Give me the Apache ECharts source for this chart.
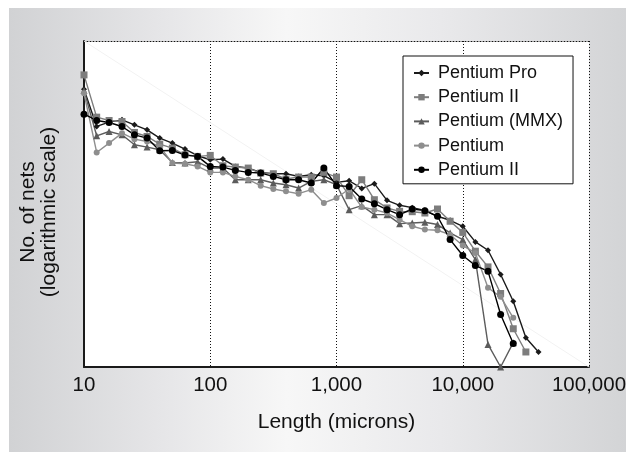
<!DOCTYPE html>
<html>
<head>
<meta charset="utf-8">
<script src="https://cdn.jsdelivr.net/npm/echarts@6/dist/echarts.min.js"></script>
<style>
  html, body { margin: 0; padding: 0; background: #fff; }
  #wrap { position: relative; width: 626px; height: 452px; }
  #panel {
    position: absolute; left: 9px; top: 8px; right: 0; bottom: 0;
    background: linear-gradient(to right, #d1d2d4 0%, #e6e6e8 25%, #f7f7f7 45%, #e9e9eb 70%, #d3d4d6 100%);
  }
  #chart { position: absolute; left: 0; top: 0; width: 626px; height: 452px; }
</style>
</head>
<body>
<div id="wrap"><div id="panel"></div><div id="chart"></div></div>
<script>
// Net length bins (microns), 10 bins per decade
const lengths = [10, 12.6, 15.8, 20, 25.1, 31.6, 39.8, 50.1, 63.1, 79.4,
  100, 126, 158, 200, 251, 316, 398, 501, 631, 794,
  1000, 1259, 1585, 1995, 2512, 3162, 3981, 5012, 6310, 7943,
  10000, 12589, 15849, 19953, 25119, 31623, 39811];

// Number of nets per bin
const pentiumPro = [18200, 4890, 5690, 6180, 5180, 4340, 3240, 2715, 2200, 1740,
  1510, 1545, 1190, 1125, 966, 921, 921, 838, 889, 859,
  679, 719, 549, 648, 360, 302, 278, 253, 205, 178,
  144, 82.9, 61.8, 26.2, 10.2, 2.81, 1.70];
const pentiumIIa = [30200, 6790, 6040, 5820, 3955, 3435, 2620, 2275, 1800, 1698,
  1758, 1221, 1165, 1125, 943, 921, 763, 819, 819, 966,
  819, 424, 745, 368, 275, 244, 241, 230, 265, 172,
  116, 59.7, 34.3, 13.4, 3.86, 1.70];
const pentiumMMX = [17380, 3515, 4095, 3640, 2560, 2357, 2147, 1374, 1342, 1406,
  1125, 1125, 745, 745, 745, 663, 625, 556, 703, 745,
  625, 259, 298, 217, 217, 158, 162, 166, 153, 114,
  90, 44.5, 2.22, 1, 2.36];
const pentium = [15800, 1953, 2715, 3860, 3125, 2880, 2415, 1342, 1310, 1193,
  966, 966, 838, 745, 604, 537, 494, 455, 524, 328,
  391, 537, 284, 259, 230, 182, 144, 128, 125, 107,
  72.8, 56.2, 16.4, 11.9, 5.69];
const pentiumIIb = [7550, 6040, 5620, 4890, 3640, 3240, 2072, 2095, 1778, 1698,
  1193, 1165, 1036, 966, 943, 838, 745, 745, 663, 1125,
  604, 589, 377, 320, 259, 217, 265, 250, 205, 90,
  51.2, 36, 29.5, 6.4, 2.30];

// Faint reference diagonal across the plot
const diagonal = [[10, 100000], [100000, 1]];

const xTicks = [10, 100, 1000, 10000, 100000];

const legendLabels = {
  'pro': 'Pentium Pro',
  'p2a': 'Pentium II',
  'mmx': 'Pentium (MMX)',
  'p1': 'Pentium',
  'p2b': 'Pentium II'
};

const FONT = '"Liberation Sans", Arial, Helvetica, sans-serif';

function pairs(vals) {
  return vals.map((v, i) => [lengths[i], v]);
}

function lineSeries(name, vals, color, symbol, size) {
  return {
    name: name,
    type: 'line',
    data: pairs(vals),
    symbol: symbol,
    symbolSize: size,
    showSymbol: true,
    lineStyle: { color: color, width: 1.4 },
    itemStyle: { color: color },
    z: 5
  };
}

const chart = echarts.init(document.getElementById('chart'), null, { renderer: 'canvas' });

chart.setOption({
  animation: false,
  backgroundColor: 'transparent',
  grid: {
    left: 84, right: 37, top: 41, bottom: 85,
    outerBoundsMode: 'none',
    containLabel: false,
    show: true, backgroundColor: '#ffffff', borderWidth: 0
  },
  legend: {
    orient: 'vertical',
    left: 403, top: 56,
    padding: [8, 10, 5, 10],
    backgroundColor: '#ffffff',
    borderColor: '#111',
    borderWidth: 1,
    itemWidth: 15,
    itemHeight: 8,
    itemGap: 6.2,
    itemStyle: { borderWidth: 0 },
    textStyle: { fontFamily: FONT, fontSize: 18, color: '#111', lineHeight: 18, padding: [0, 0, 0, 4] },
    formatter: n => legendLabels[n],
    data: ['pro', 'p2a', 'mmx', 'p1', 'p2b']
  },
  xAxis: [{
    type: 'log',
    logBase: 10,
    min: xTicks[0],
    max: xTicks[xTicks.length - 1],
    name: 'Length (microns)',
    nameLocation: 'middle',
    nameGap: 45,
    nameTextStyle: { fontFamily: FONT, fontSize: 21, color: '#111' },
    axisLine: { show: true, onZero: false, lineStyle: { color: '#1a1a1a', width: 2 } },
    axisTick: { show: false },
    axisLabel: {
      fontFamily: FONT, fontSize: 20.5, color: '#111', margin: 8,
      showMinLabel: true, showMaxLabel: true, hideOverlap: false,
      formatter: v => Number(v).toLocaleString('en-US')
    },
    splitLine: { show: true, lineStyle: { color: '#111', width: 1, type: [1, 2] } }
  }, {
    type: 'log',
    logBase: 10,
    position: 'top',
    min: xTicks[0],
    max: xTicks[xTicks.length - 1],
    axisLine: { show: true, lineStyle: { color: '#111', width: 1, type: [1, 2] } },
    axisTick: { show: false },
    axisLabel: { show: false },
    splitLine: { show: false }
  }],
  yAxis: {
    type: 'log',
    logBase: 10,
    min: 1,
    max: 100000,
    name: 'No. of nets\n(logarithmic scale)',
    nameLocation: 'middle',
    nameGap: 24,
    nameRotate: 90,
    nameTextStyle: { fontFamily: FONT, fontSize: 21, color: '#111', lineHeight: 21, padding: [0, 16, 0, 0] },
    axisLine: { show: true, onZero: false, lineStyle: { color: '#1a1a1a', width: 2 } },
    axisTick: { show: false },
    axisLabel: { show: false },
    splitLine: { show: false }
  },
  series: [
    {
      name: 'diagonal',
      type: 'line',
      data: diagonal,
      symbol: 'none',
      silent: true,
      lineStyle: { color: '#f2f2f2', width: 1 },
      z: 1
    },
    lineSeries('pro', pentiumPro, '#1a1a1a', 'diamond', 6),
    lineSeries('p2a', pentiumIIa, '#7d7d7d', 'rect', 7),
    lineSeries('mmx', pentiumMMX, '#5c5c5c', 'triangle', 7),
    lineSeries('p1', pentium, '#8e8e8e', 'circle', 6),
    lineSeries('p2b', pentiumIIb, '#000000', 'circle', 7)
  ]
});
</script>
</body>
</html>
